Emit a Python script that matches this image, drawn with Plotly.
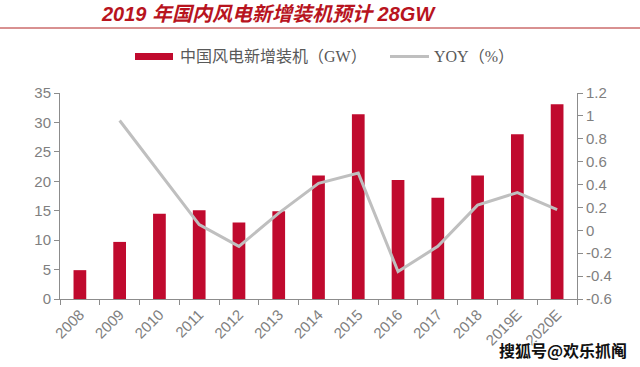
import plotly.graph_objects as go

years = ["2008", "2009", "2010", "2011", "2012", "2013", "2014", "2015",
         "2016", "2017", "2018", "2019E", "2020E"]
new_capacity_gw = [4.9, 9.7, 14.5, 15.1, 13.0, 14.9, 21.0, 31.4, 20.2, 17.2, 21.0, 28.0, 33.1]
yoy = [None, 0.96, 0.50, 0.05, -0.14, 0.15, 0.41, 0.50, -0.36, -0.14, 0.22, 0.33, 0.18]

left_ticks = [0, 5, 10, 15, 20, 25, 30, 35]
right_ticks = [-0.6, -0.4, -0.2, 0, 0.2, 0.4, 0.6, 0.8, 1.0, 1.2]
right_tick_text = ["-0.6", "-0.4", "-0.2", "0", "0.2", "0.4", "0.6", "0.8", "1", "1.2"]

bar_name = "中国风电新增装机（GW）"
line_name = "YOY（%）"
title_text = "2019 年国内风电新增装机预计 28GW"
watermark = "搜狐号@欢乐抓阄"

BAR_COLOR = "#C00A2E"
LINE_COLOR = "#BFBFBF"
AXIS_COLOR = "#8C8C8C"
TICK_FONT = dict(family="Liberation Sans, Arial, sans-serif", size=15, color="#7F7F7F")

W, H = 640, 367
L, R, T, B = 60, 63, 93, 68
PW, PH = W - L - R, H - T - B


def px(x):
    return (x - L) / PW


def py(y):
    return (H - B - y) / PH


fig = go.Figure()
fig.add_trace(go.Bar(x=years, y=new_capacity_gw, name=bar_name,
                     marker=dict(color=BAR_COLOR, line=dict(width=0)),
                     showlegend=False))
fig.add_trace(go.Scatter(x=years, y=yoy, name=line_name, yaxis="y2", mode="lines",
                         line=dict(color=LINE_COLOR, width=3),
                         connectgaps=False, showlegend=False))

fig.update_layout(
    width=W, height=H,
    margin=dict(l=L, r=R, t=T, b=B),
    paper_bgcolor="white", plot_bgcolor="white",
    bargap=0.68,
    title=dict(text=title_text, xref="container", yref="container",
               x=102 / W, xanchor="left", y=1 - 14 / H, yanchor="middle",
               font=dict(family="Liberation Sans, Arial, 'Noto Sans CJK SC'", size=20,
                         color="#B8141E", weight="bold", style="italic")),
    xaxis=dict(type="category", showgrid=False, showline=True, linecolor=AXIS_COLOR,
               linewidth=1, ticks="outside", tickson="boundaries", ticklen=5,
               tickcolor=AXIS_COLOR, tickangle=-45, tickfont=TICK_FONT),
    yaxis=dict(range=[0, 35], tickvals=left_ticks, showgrid=False, zeroline=False,
               showline=True, linecolor=AXIS_COLOR, ticks="outside", ticklen=5,
               tickcolor=AXIS_COLOR, tickfont=TICK_FONT),
    yaxis2=dict(range=[-0.6, 1.2], tickvals=right_ticks, ticktext=right_tick_text,
                overlaying="y", side="right", showgrid=False, zeroline=False,
                showline=True, linecolor=AXIS_COLOR, ticks="outside", ticklen=5,
                tickcolor=AXIS_COLOR, tickfont=TICK_FONT),
    shapes=[
        dict(type="line", xref="paper", yref="paper", x0=px(0), x1=px(W),
             y0=py(28), y1=py(28), line=dict(color="#B22222", width=1)),
        dict(type="rect", xref="paper", yref="paper", x0=px(135), x1=px(173),
             y0=py(60), y1=py(53), fillcolor=BAR_COLOR, line=dict(width=0)),
        dict(type="line", xref="paper", yref="paper", x0=px(390), x1=px(429),
             y0=py(56.5), y1=py(56.5), line=dict(color=LINE_COLOR, width=3)),
    ],
    annotations=[
        dict(text=bar_name, xref="paper", yref="paper", x=px(178), y=py(56.5),
             xanchor="left", yanchor="middle", showarrow=False,
             font=dict(family="Liberation Serif, 'Noto Sans CJK SC'", size=16, color="#595959")),
        dict(text=line_name, xref="paper", yref="paper", x=px(432), y=py(56.5),
             xanchor="left", yanchor="middle", showarrow=False,
             font=dict(family="Liberation Serif, 'Noto Sans CJK SC'", size=16, color="#595959")),
        dict(text=watermark, xref="paper", yref="paper", x=px(563), y=py(350),
             xanchor="center", yanchor="middle", showarrow=False,
             font=dict(family="'Noto Sans CJK SC'", size=16, color="#111111", weight="bold",
                       shadow="1px 1px 0 #fff, -1px -1px 0 #fff, 1px -1px 0 #fff, -1px 1px 0 #fff")),
    ],
)

fig.write_html("out.html", config={"displayModeBar": False},
               post_script="document.body.style.margin='0';document.body.style.padding='0';")
